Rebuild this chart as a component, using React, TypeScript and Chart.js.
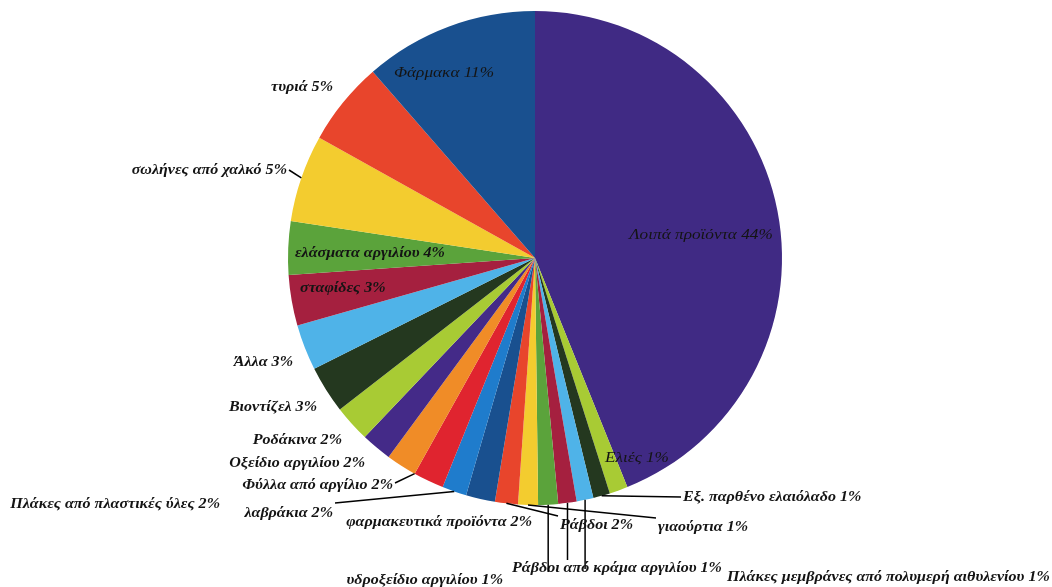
import React, { useEffect, useRef } from "react";
import { Chart, registerables } from "chart.js";

Chart.register(...registerables);

// Slices in clockwise order starting at 12 o'clock
const categories = [
  "Λοιπά προϊόντα",
  "Ελιές",
  "Εξ. παρθένο ελαιόλαδο",
  "Πλάκες μεμβράνες από πολυμερή αιθυλενίου",
  "Ράβδοι από κράμα αργιλίου",
  "υδροξείδιο αργιλίου",
  "γιαούρτια",
  "Ράβδοι",
  "φαρμακευτικά προϊόντα",
  "λαβράκια",
  "Πλάκες από πλαστικές ύλες",
  "Φύλλα από αργίλιο",
  "Οξείδιο αργιλίου",
  "Ροδάκινα",
  "Βιοντίζελ",
  "Άλλα",
  "σταφίδες",
  "ελάσματα αργιλίου",
  "σωλήνες από χαλκό",
  "τυριά",
  "Φάρμακα",
];

const values = [
  43.9, 1.2, 1.1, 1.1, 1.2, 1.3, 1.3, 1.5, 1.9, 1.6, 2.0, 2.0, 2.0, 2.4, 3.1,
  3.0, 3.3, 3.5, 5.7, 5.5, 11.4,
];

const percentLabels = [
  "44%", "1%", "1%", "1%", "1%", "1%", "1%", "2%", "2%", "2%", "2%", "2%",
  "2%", "2%", "3%", "3%", "3%", "4%", "5%", "5%", "11%",
];

const colors = [
  "#402a84", "#a8cb34", "#24381f", "#4fb3e8", "#a5203f", "#5ba33b",
  "#f3cc2f", "#e8452c", "#19508f", "#1f7ccc", "#e0242f", "#f08c27",
  "#442a88", "#a8cb34", "#24381f", "#4fb3e8", "#a5203f", "#5ba33b",
  "#f3cc2f", "#e8452c", "#19508f",
];

type Layout = {
  dx: number;
  dy: number;
  align: "left" | "right" | "center";
  leader: "none" | "line" | "vertical";
  endDy?: number;
  at?: number; // where on the slice's outer edge the leader starts (0..1)
  bold?: boolean;
};

// label placement relative to the pie centre
const labelLayout: Layout[] = [
  { dx: 166, dy: -23, align: "center", leader: "none", bold: false },
  { dx: 102, dy: 200, align: "center", leader: "none", bold: false },
  { dx: 148, dy: 239, align: "left", leader: "line" },
  { dx: 192, dy: 319, align: "left", leader: "vertical" },
  { dx: -23, dy: 310, align: "left", leader: "vertical" },
  { dx: -32, dy: 322, align: "right", leader: "vertical" },
  { dx: 123, dy: 269, align: "left", leader: "line", endDy: -9 },
  { dx: 25, dy: 267, align: "left", leader: "line", endDy: -9 },
  { dx: -3, dy: 264, align: "right", leader: "none" },
  { dx: -202, dy: 255, align: "right", leader: "line", endDy: -10 },
  { dx: -315, dy: 246, align: "right", leader: "none" },
  { dx: -142, dy: 227, align: "right", leader: "line", endDy: -2, at: 0 },
  { dx: -170, dy: 205, align: "right", leader: "none" },
  { dx: -193, dy: 182, align: "right", leader: "none" },
  { dx: -218, dy: 149, align: "right", leader: "none" },
  { dx: -242, dy: 104, align: "right", leader: "none" },
  { dx: -235, dy: 30, align: "left", leader: "none" },
  { dx: -240, dy: -5, align: "left", leader: "none" },
  { dx: -248, dy: -88, align: "right", leader: "line" },
  { dx: -202, dy: -171, align: "right", leader: "none" },
  { dx: -91, dy: -185, align: "center", leader: "none", bold: false },
];

const labelPlugin = {
  id: "pieLabels",
  afterDatasetsDraw(chart: any) {
    const ctx: CanvasRenderingContext2D = chart.ctx;
    const meta = chart.getDatasetMeta(0);
    ctx.save();
    meta.data.forEach((arc: any, i: number) => {
      const p = arc.getProps(["x", "y", "startAngle", "endAngle", "outerRadius"], true);
      const L = labelLayout[i];
      if (!L) return;
      const text = `${categories[i]} ${percentLabels[i]}`;
      const bold = L.bold !== false;
      const lx = p.x + L.dx;
      const ly = p.y + L.dy;
      const frac = L.at === undefined ? 0.5 : L.at;
      const ang = p.startAngle + (p.endAngle - p.startAngle) * frac;
      const ex = p.x + Math.cos(ang) * p.outerRadius;
      const ey = p.y + Math.sin(ang) * p.outerRadius;
      ctx.strokeStyle = "#000";
      ctx.lineWidth = 1.5;
      if (L.leader === "line") {
        let tx = lx;
        if (L.align === "left") tx = lx - 2;
        else if (L.align === "right") tx = lx + 2;
        const ty = ly + (L.endDy || 0);
        ctx.beginPath();
        ctx.moveTo(ex, ey);
        ctx.lineTo(tx, ty);
        ctx.stroke();
      } else if (L.leader === "vertical") {
        ctx.beginPath();
        ctx.moveTo(ex, ey);
        ctx.lineTo(ex, ly - 8);
        ctx.stroke();
      }
      ctx.save();
      ctx.font = `${bold ? "bold " : ""}italic 15px "Liberation Serif"`;
      ctx.fillStyle = "#141414";
      ctx.textAlign = L.align;
      ctx.textBaseline = "middle";
      ctx.translate(lx, ly);
      ctx.scale(bold ? 1.07 : 1.15, 1);
      ctx.fillText(text, 0, 0);
      ctx.restore();
    });
    ctx.restore();
  },
};

export default function App() {
  const canvasRef = useRef<HTMLCanvasElement | null>(null);

  useEffect(() => {
    if (!canvasRef.current) return;
    const chart = new Chart(canvasRef.current, {
      type: "pie",
      data: {
        labels: categories,
        datasets: [
          {
            data: values,
            backgroundColor: colors,
            borderWidth: 0,
          },
        ],
      },
      options: {
        animation: false,
        responsive: true,
        maintainAspectRatio: false,
        layout: { padding: { left: 288, right: 270, top: 11, bottom: 82 } },
        plugins: {
          legend: { display: false },
          tooltip: { enabled: false },
          title: { display: false },
        },
      },
      plugins: [labelPlugin],
    });
    return () => chart.destroy();
  }, []);

  return (
    <div
      style={{
        position: "fixed",
        left: 0,
        top: 0,
        width: 1052,
        height: 587,
        background: "#ffffff",
      }}
    >
      <canvas ref={canvasRef} />
    </div>
  );
}
